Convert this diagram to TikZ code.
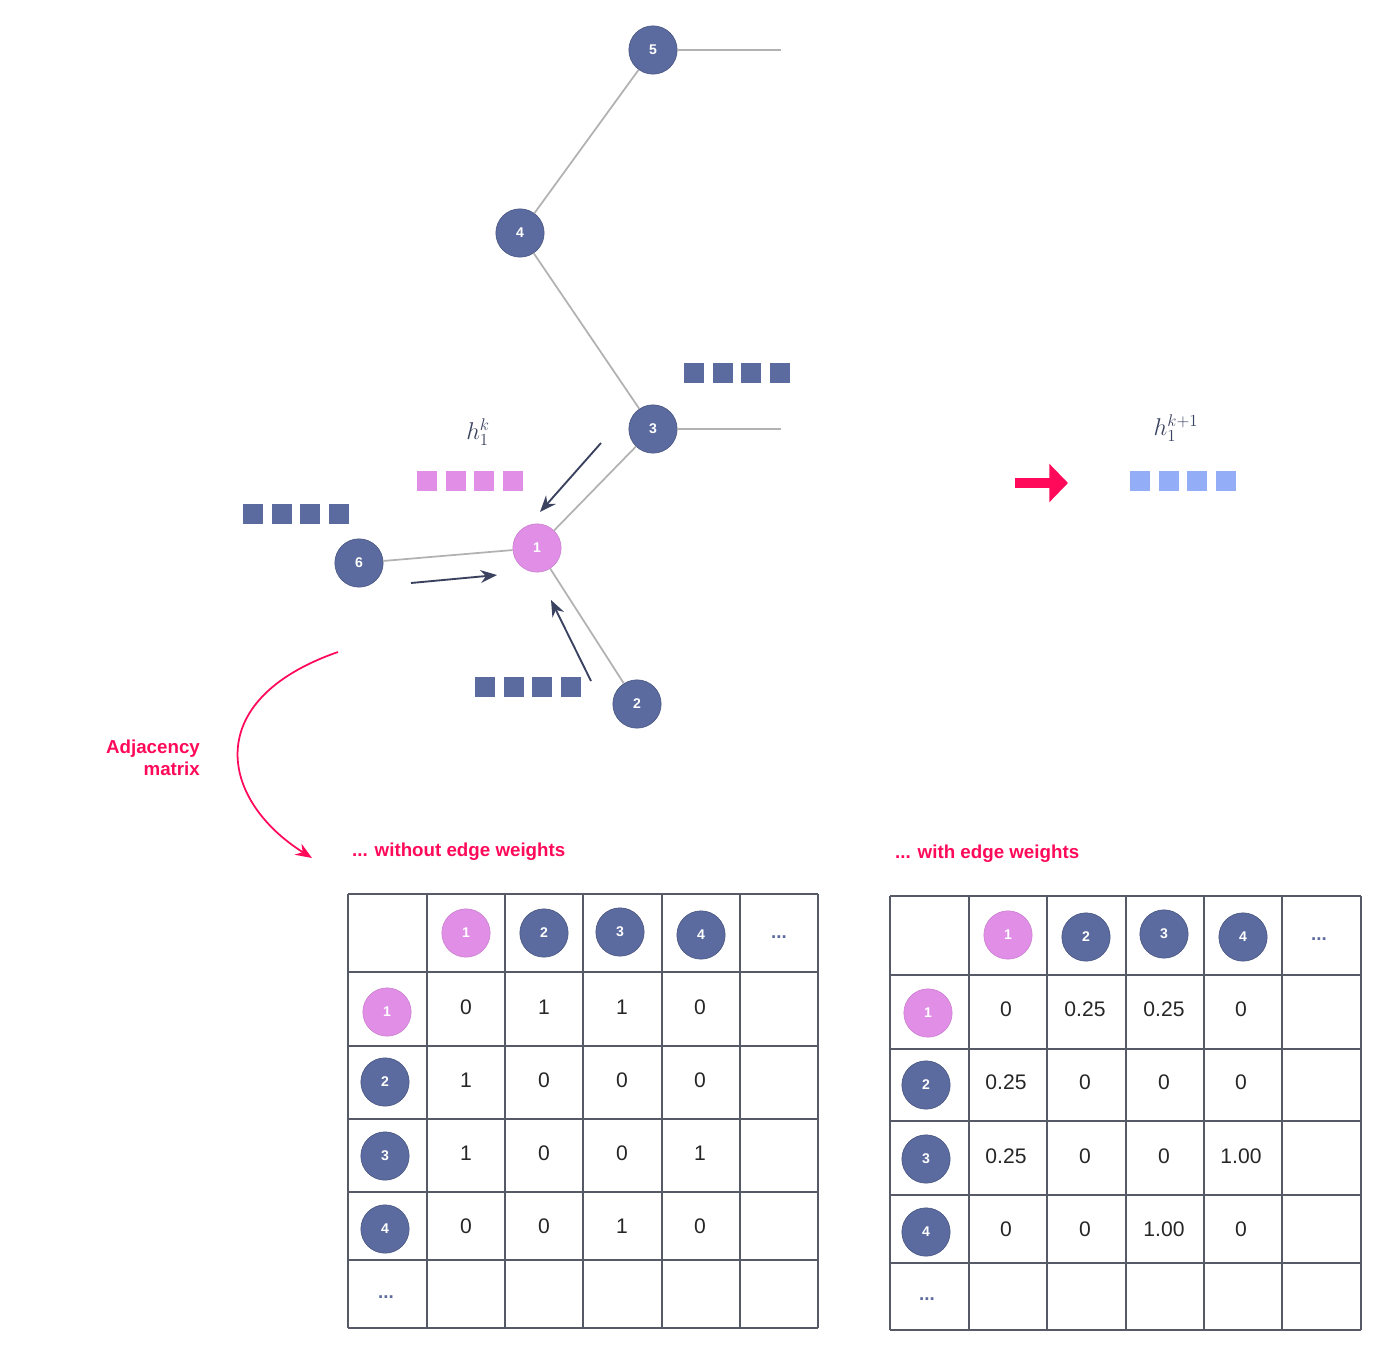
\documentclass[tikz,border=0pt]{standalone}
\usepackage{fontspec}
\setmainfont{Liberation Sans}
\usetikzlibrary{arrows.meta}
\definecolor{nd}{HTML}{5B6BA0}
\definecolor{np}{HTML}{E08EE6}
\definecolor{red}{HTML}{FF0A5A}
\definecolor{lb}{HTML}{93AEF7}
\definecolor{ar}{HTML}{3A4260}
\definecolor{tl}{HTML}{555A66}
\begin{document}
\begin{tikzpicture}[x=0.03cm,y=-0.03cm,
  dn/.style={circle,fill=nd,draw=nd!80!black,line width=0.5pt,minimum size=1.45cm,inner sep=0,text=white,font=\fontsize{12}{12}\selectfont\bfseries},
  pn/.style={dn,fill=np,draw=np!90!black},
  edge/.style={draw=gray!60,line width=1.5pt},
  msg/.style={-{Stealth[length=14pt,width=11pt]},draw=ar,line width=1.6pt},
  sq/.style={fill=#1,draw=none,minimum size=0.6cm,inner sep=0},
  lab/.style={text=red,font=\fontsize{16}{19}\selectfont\bfseries},
  num/.style={font=\fontsize{18}{18}\selectfont,text=black!85},
  tab/.style={draw=tl,line width=1.5pt}]
\useasboundingbox (0,0) rectangle (1400,1371);
% graph
\node[dn] (n5) at (653,50) {5};
\node[dn] (n4) at (520,233) {4};
\node[dn] (n3) at (653,429) {3};
\node[pn] (n1) at (537,548) {1};
\node[dn] (n6) at (359,563) {6};
\node[dn] (n2) at (637,704) {2};
\coordinate (e5) at (781,50);
\coordinate (e3) at (781,429);
\begin{scope}[on background layer/.style={}]
\draw[edge] (n5) -- (e5);
\draw[edge] (n3) -- (e3);
\draw[edge] (n5) -- (n4);
\draw[edge] (n4) -- (n3);
\draw[edge] (n3) -- (n1);
\draw[edge] (n6) -- (n1);
\draw[edge] (n1) -- (n2);
\end{scope}
% squares
\foreach \x/\y/\c in {694/373/nd,427/481/np,253/514/nd,485/687/nd,1140/481/lb}{
  \foreach \i in {0,1,2,3}{\node[sq=\c] at (\x+\i*28.5,\y) {};}}
% message arrows
\coordinate (a1s) at (601,443); \coordinate (a1e) at (540,512);
\coordinate (a2s) at (411,583); \coordinate (a2e) at (497,575);
\coordinate (a3s) at (591,681); \coordinate (a3e) at (551,600);
\draw[msg] (a1s) -- (a1e);
\draw[msg] (a2s) -- (a2e);
\draw[msg] (a3s) -- (a3e);
\node[text=ar,font=\fontsize{20}{20}\selectfont] (hk) at (478,432) {$h_1^k$};
\node[text=ar,font=\fontsize{20}{20}\selectfont] (hk1) at (1176,428) {$h_1^{k+1}$};
\coordinate (ra) at (1015,483); \coordinate (rb) at (1068,483);
\draw[red,line width=9pt,-{Triangle[length=16pt,width=32pt]}] (ra) -- (rb);
% curved arrow
\coordinate (cs) at (338,652); \coordinate (ce) at (312,858);
\draw[red,line width=1.5pt,-{Stealth[length=14pt,width=11pt]}] (cs) .. controls (200,700) and (220,800) .. (ce);
\node[lab,align=right,anchor=east] (adj) at (204,758) {Adjacency\\matrix};
\node[lab,anchor=west] (t1) at (348,852) {... without edge weights};
\node[lab,anchor=west] (t2) at (891,854) {... with edge weights};
% tables
\newcommand\mytable[4]{% #1 xlist, #2 ylist, #3 cells, #4 name
}
% table 1
\foreach \x in {348,427,505,583,662,740,818} \draw[tab] (\x,894) -- (\x,1328);
\foreach \y in {894,972,1046,1119,1192,1260,1328} \draw[tab] (348,\y) -- (818,\y);
\node[pn] (a1) at (466,933) {1};
\node[dn] (a2) at (544,933) {2};
\node[dn] (a3) at (620,932) {3};
\node[dn] (a4) at (701,935) {4};
\node[text=nd,font=\fontsize{16}{16}\selectfont\bfseries] (ad) at (779,937) {...};
\node[pn] (b1) at (387,1012) {1};
\node[dn] (b2) at (385,1082) {2};
\node[dn] (b3) at (385,1156) {3};
\node[dn] (b4) at (385,1229) {4};
\node[text=nd,font=\fontsize{16}{16}\selectfont\bfseries] (bd) at (386,1297) {...};
\foreach \r/\y in {1/1007,2/1080,3/1153,4/1226}{
 \foreach \v [count=\c] in {0,1,1,0,1,0,0,0,1,0,0,1,0,0,1,0}{}}
\foreach \y/\a/\b/\c/\d in {1007/0/1/1/0,1080/1/0/0/0,1153/1/0/0/1,1226/0/0/1/0}{
 \node[num] at (466,\y) {\a}; \node[num] at (544,\y) {\b};
 \node[num] at (622,\y) {\c}; \node[num] at (700,\y) {\d};}
% table 2
\foreach \x in {890,969,1047,1126,1204,1282,1361} \draw[tab] (\x,896) -- (\x,1330);
\foreach \y in {896,975,1049,1121,1195,1263,1330} \draw[tab] (890,\y) -- (1361,\y);
\node[pn] (c1) at (1008,935) {1};
\node[dn] (c2) at (1086,937) {2};
\node[dn] (c3) at (1164,934) {3};
\node[dn] (c4) at (1243,937) {4};
\node[text=nd,font=\fontsize{16}{16}\selectfont\bfseries] (cd) at (1319,939) {...};
\node[pn] (d1) at (928,1013) {1};
\node[dn] (d2) at (926,1085) {2};
\node[dn] (d3) at (926,1159) {3};
\node[dn] (d4) at (926,1232) {4};
\node[text=nd,font=\fontsize{16}{16}\selectfont\bfseries] (dd) at (927,1299) {...};
\foreach \y/\a/\b/\c/\d in {1009/0/0.25/0.25/0,1082/0.25/0/0/0,1156/0.25/0/0/1.00,1229/0/0/1.00/0}{
 \node[num] at (1006,\y) {\a}; \node[num] at (1085,\y) {\b};
 \node[num] at (1164,\y) {\c}; \node[num] at (1241,\y) {\d};}
\end{tikzpicture}
\end{document}
